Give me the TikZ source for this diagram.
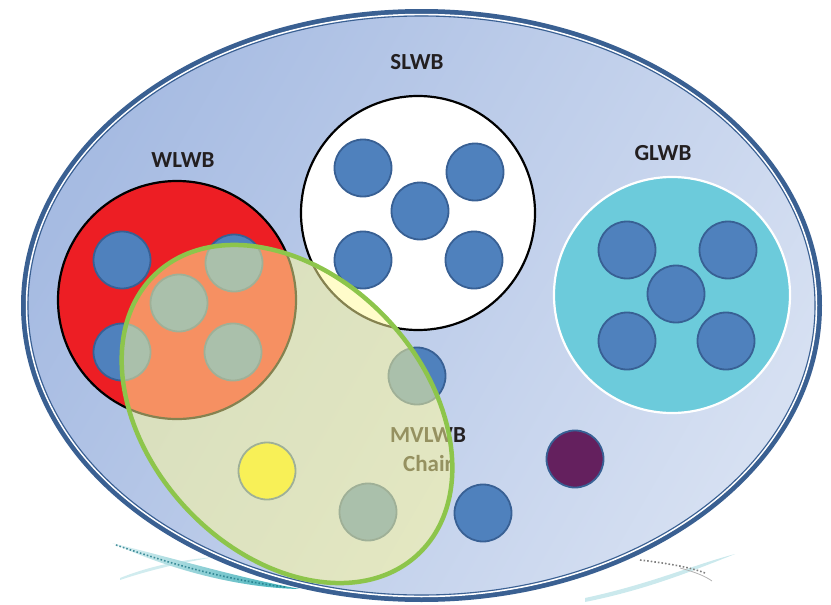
\documentclass[tikz,border=0pt]{standalone}
\usepackage{fontspec}
\setmainfont{Carlito}
\usetikzlibrary{shapes.geometric}
\definecolor{dotblue}{RGB}{79,129,189}
\definecolor{dotedge}{RGB}{56,96,148}
\definecolor{rimblue}{RGB}{58,96,146}
\definecolor{bgA}{RGB}{166,187,226}
\definecolor{bgB}{RGB}{214,224,242}
\definecolor{wred}{RGB}{237,30,36}
\definecolor{gcyan}{RGB}{108,203,219}
\definecolor{mpurple}{RGB}{100,32,94}
\definecolor{myellow}{RGB}{241,230,13}
\definecolor{mvfill}{RGB}{255,250,155}
\definecolor{mvedge}{RGB}{141,197,75}
\definecolor{swA}{RGB}{190,228,232}
\definecolor{swB}{RGB}{52,170,180}
\definecolor{swD}{RGB}{30,120,135}
\definecolor{labtext}{RGB}{35,31,32}
\tikzset{
  dot/.style={circle,inner sep=0pt,minimum size=57pt,fill=dotblue,draw=dotedge,line width=1.8pt},
  bigcircle/.style={circle,inner sep=0pt,line width=2.2pt},
  grouplabel/.style={font=\fontsize{23}{27}\selectfont\bfseries,text=labtext,inner sep=0pt},
}
\begin{document}
\begin{tikzpicture}[x=1pt,y=-1pt]
\useasboundingbox (0,0) rectangle (831,605);
% swoosh, left
\fill[swA,opacity=0.7] (120,578) .. controls (150,566) and (180,560) .. (215,557) .. controls (180,563) and (150,570) .. (120,580) -- cycle;
\shade[left color=swA!40,right color=swB] (112,543) .. controls (180,560) and (240,578) .. (300,589) .. controls (240,588) and (170,570) .. (112,543) -- cycle;
\draw[swD,line width=1.6pt,dotted,opacity=0.8] (116,545) .. controls (180,567) and (230,580) .. (285,587);
% swoosh, right
\fill[swA,opacity=0.8] (585,598) .. controls (650,584) and (690,566) .. (735,554) .. controls (690,572) and (645,590) .. (585,602) -- cycle;
\draw[gray,line width=1.6pt,dotted] (640,560) .. controls (665,563) and (690,567) .. (705,573);
\draw[gray!60,line width=0.8pt] (680,568) .. controls (695,572) and (705,576) .. (712,581);
% main ellipse
\shade[left color=bgA,right color=bgB,shading angle=60] (421.5,305.5) ellipse (398 and 294);
\draw[rimblue,line width=5pt] (421.5,305.5) ellipse (398 and 294);
\draw[white,line width=1.5pt] (421.5,305.5) ellipse (395 and 291);
\draw[rimblue,line width=1.1pt] (421.5,305.5) ellipse (393.5 and 289.5);
% WLWB
\node[bigcircle,fill=wred,draw=black,minimum size=238pt] (wl) at (177,300) {};
\node[dot] (wl1) at (122,260) {};
\node[dot] (wl2) at (234,263) {};
\node[dot] (wl3) at (179,303) {};
\node[dot] (wl4) at (122,352) {};
\node[dot] (wl5) at (233,352) {};
\node[grouplabel] (wllab) at (183,160) {WLWB};
% SLWB
\node[bigcircle,fill=white,draw=black,minimum size=234pt] (sl) at (418,213) {};
\node[dot] (sl1) at (363,168) {};
\node[dot] (sl2) at (475,172) {};
\node[dot] (sl3) at (420,211) {};
\node[dot] (sl4) at (363,260) {};
\node[dot] (sl5) at (474,260) {};
\node[grouplabel] (sllab) at (417,62) {SLWB};
% GLWB
\node[bigcircle,fill=gcyan,draw=white,minimum size=236pt] (gl) at (672,295) {};
\node[dot] (gl1) at (627,250) {};
\node[dot] (gl2) at (728,250) {};
\node[dot] (gl3) at (676,294) {};
\node[dot] (gl4) at (627,341) {};
\node[dot] (gl5) at (726,341) {};
\node[grouplabel] (gllab) at (663,153) {GLWB};
% free members
\node[dot] (m1) at (417,376) {};
\node[dot] (m2) at (483,513) {};
\node[dot,fill=mpurple] (m3) at (575,459) {};
\node[dot,fill=myellow] (m4) at (267,471) {};
\node[dot] (m5) at (368,512) {};
\node[grouplabel,align=center] (mvlab) at (428,450) {MVLWB\\[2pt]Chair};
% MVLWB ellipse
\fill[mvfill,opacity=0.52,rotate around={-47:(287,414)}] (287,414) ellipse (192 and 138);
\draw[mvedge,line width=4.5pt,rotate around={-47:(287,414)}] (287,414) ellipse (192 and 138);
\end{tikzpicture}
\end{document}
